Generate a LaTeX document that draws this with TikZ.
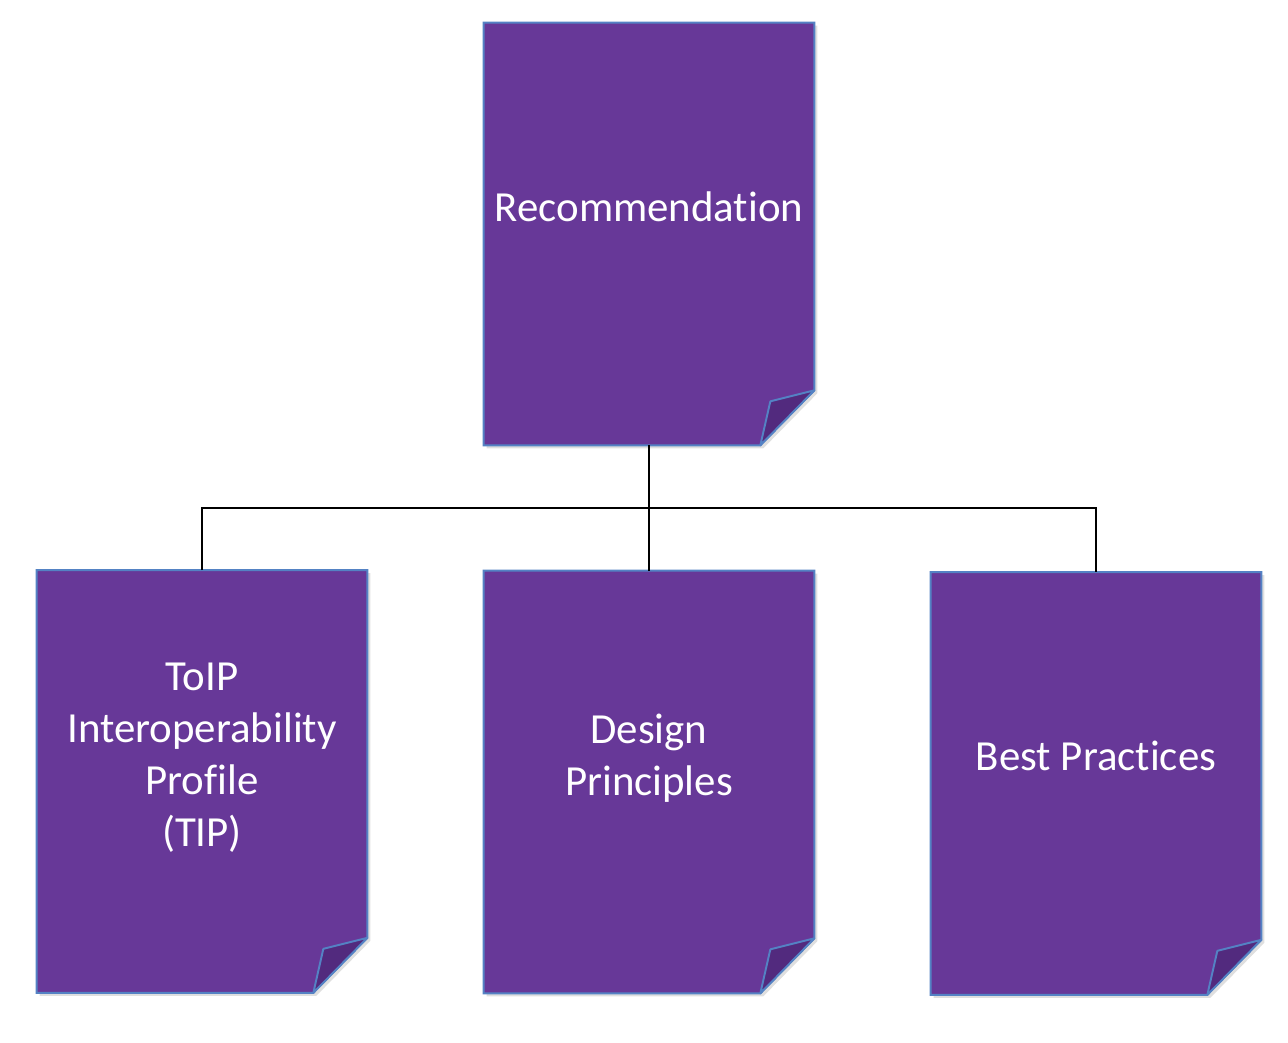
\documentclass[tikz,border=0pt]{standalone}
\usepackage{fontspec}
\newfontfamily\pagefont[Ligatures=NoCommon]{Carlito}
\usetikzlibrary{shadows}

\definecolor{pagefill}{RGB}{103,56,152}
\definecolor{foldfill}{RGB}{82,42,126}
\definecolor{pageborder}{RGB}{84,130,196}

\tikzset{
  page/.style={fill=pagefill, draw=pageborder, line width=1.1pt,
    drop shadow={shadow xshift=0.06cm, shadow yshift=-0.06cm, opacity=0.25}},
  fold/.style={fill=foldfill, draw=pageborder, line width=1.1pt, line join=round},
  pagebox/.style={minimum width=6.6cm, minimum height=8.44cm, inner sep=0pt},
  pagetext/.style={text=white, align=center,
    font=\pagefont\fontsize{24.4}{29.6}\selectfont},
  link/.style={draw=black, line width=0.85pt}
}

\begin{document}
\begin{tikzpicture}[x=0.02cm, y=-0.02cm]
  \useasboundingbox (0,0) rectangle (1288,1042);

  % Top page
  \begin{scope}
    \node[pagebox] (rec) at (649,234) {};
    \filldraw[page] (rec.north west) -- (rec.north east) -- ([yshift=1.1cm]rec.south east)
      -- ([xshift=-1.08cm]rec.south east) -- (rec.south west) -- cycle;
    \filldraw[fold] ([yshift=1.1cm]rec.south east) -- ([xshift=-0.88cm,yshift=0.88cm]rec.south east)
      -- ([xshift=-1.08cm]rec.south east) -- cycle;
    \node[pagetext] (rec-label) at ([yshift=0.54cm]rec.center) {Recommendation};
  \end{scope}

  % Bottom pages
  \begin{scope}
    \node[pagebox] (tip) at (202,781.5) {};
    \node[pagebox] (des) at (649,782) {};
    \node[pagebox] (bp) at (1096,783.5) {};
    \foreach \p in {tip,des,bp} {
      \filldraw[page] (\p.north west) -- (\p.north east) -- ([yshift=1.1cm]\p.south east)
        -- ([xshift=-1.08cm]\p.south east) -- (\p.south west) -- cycle;
      \filldraw[fold] ([yshift=1.1cm]\p.south east) -- ([xshift=-0.88cm,yshift=0.88cm]\p.south east)
        -- ([xshift=-1.08cm]\p.south east) -- cycle;
    }
    \node[pagetext] (tip-label) at ([yshift=0.48cm]tip.center) {ToIP\\Interoperability\\Profile\\(TIP)};
    \node[pagetext] (des-label) at ([yshift=0.48cm]des.center) {Design\\Principles};
    \node[pagetext] (bp-label) at ([yshift=0.56cm]bp.center) {Best Practices};
  \end{scope}

  % Connectors
  \coordinate (split) at (649,508);
  \draw[link] (rec.south) -- (split);
  \draw[link] (tip.north) |- (split) -| (bp.north);
  \draw[link] (split) -- (des.north);
\end{tikzpicture}
\end{document}
